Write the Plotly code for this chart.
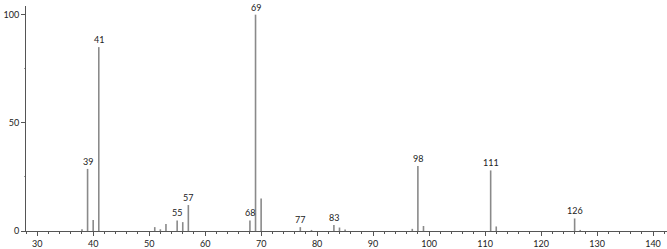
import plotly.graph_objects as go

mz = [38, 39, 40, 41, 51, 52, 53, 55, 56, 57, 68, 69, 70, 77, 79, 83, 84, 85,
      97, 98, 99, 111, 112, 126, 127]
intensity = [0.8, 28.7, 5.1, 85, 1.8, 0.8, 3.2, 4.9, 4.1, 12, 4.9, 100, 15, 1.8,
             0.5, 2.8, 1.6, 0.7, 1.0, 30, 2.3, 28, 2.1, 5.8, 0.5]
labeled = [39, 41, 55, 57, 68, 69, 77, 83, 98, 111, 126]

xs, ys = [], []
for m, h in zip(mz, intensity):
    xs += [m, m, None]
    ys += [0, h, None]

fig = go.Figure()
fig.add_trace(go.Scatter(x=xs, y=ys, mode="lines",
                         line=dict(color="#8a8a8a", width=1.6),
                         hoverinfo="skip", showlegend=False))

font = dict(family="Lato, DejaVu Sans, sans-serif", size=9, color="#222")
for m, h in zip(mz, intensity):
    if m in labeled:
        fig.add_annotation(x=m, y=h, text=str(m), showarrow=False,
                           yanchor="bottom", yshift=0, font=font)

fig.update_layout(
    width=667, height=249,
    margin=dict(l=26, r=0, t=6, b=16),
    plot_bgcolor="white", paper_bgcolor="white",
    font=font,
    xaxis=dict(range=[28, 142.5], showgrid=False, zeroline=False,
               showline=True, linecolor="#555", linewidth=1,
               tickmode="linear", tick0=30, dtick=10,
               ticks="outside", ticklen=4, tickcolor="#555",
               minor=dict(dtick=2, tick0=30, ticks="outside", ticklen=2, tickcolor="#555"),
               tickfont=font),
    yaxis=dict(range=[0, 104], showgrid=False, zeroline=False,
               showline=True, linecolor="#555", linewidth=1,
               tickvals=[0, 50, 100], ticks="outside", ticklen=4, tickcolor="#555",
               minor=dict(tickvals=[25, 75], ticks="outside", ticklen=1, tickcolor="#999"),
               tickfont=font),
)

fig.write_html("out.html")
